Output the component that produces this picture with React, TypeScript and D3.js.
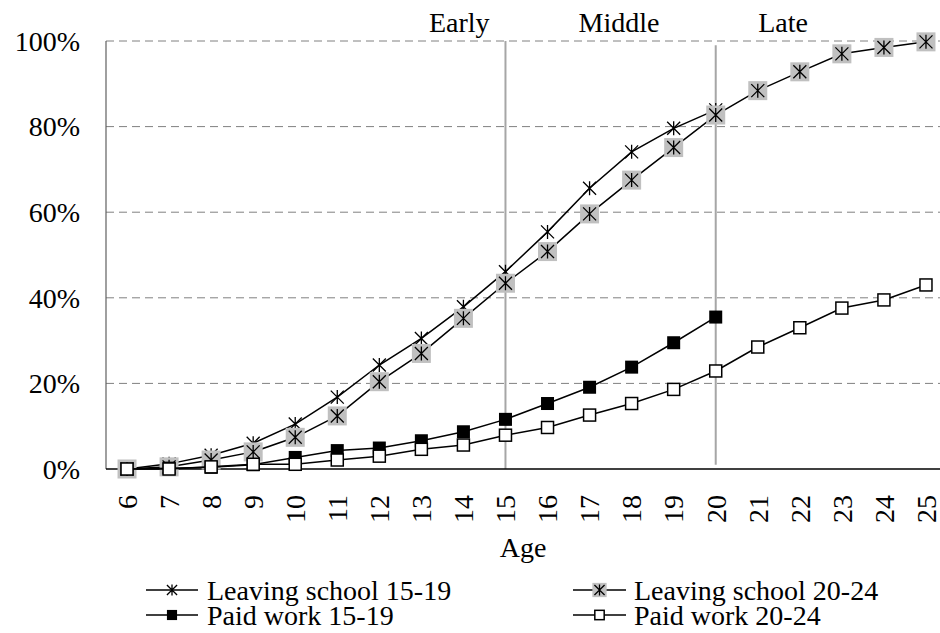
import React from "react";
import * as d3 from "d3";

const ages = d3.range(6, 26);
const ages15_19 = d3.range(6, 21);
const leaving15_19 = [0, 1.2, 3.2, 6, 10.5, 16.8, 24.3, 30.5, 37.9, 46.1, 55.4, 65.6, 74.1, 79.6, 83.9];
const leaving20_24 = [0, 0.5, 2.1, 4, 7.4, 12.4, 20.4, 27, 35.2, 43.4, 50.8, 59.6, 67.5, 75.1, 82.7, 88.4, 92.8, 97, 98.5, 99.8];
const paid15_19 = [0, 0.2, 0.4, 1.0, 2.7, 4.3, 4.9, 6.6, 8.7, 11.6, 15.3, 19.1, 23.8, 29.5, 35.5];
const paid20_24 = [0, 0, 0.5, 1.1, 1.1, 2.1, 3, 4.6, 5.6, 7.9, 9.7, 12.6, 15.3, 18.6, 22.9, 28.5, 33, 37.6, 39.5, 43];
const yTicks = [0, 20, 40, 60, 80, 100];
const phaseLines = [15, 20];
const phaseLabels = [
  { label: "Early", at: 13.9 },
  { label: "Middle", at: 17.7 },
  { label: "Late", at: 21.6 },
];

const FONT = "Liberation Serif, Times New Roman, DejaVu Serif, serif";

type Kind = "star" | "greystar" | "blacksq" | "whitesq";

const series: { name: string; xs: number[]; ys: number[]; kind: Kind }[] = [
  { name: "Leaving school 15-19", xs: ages15_19, ys: leaving15_19, kind: "star" },
  { name: "Leaving school 20-24", xs: ages, ys: leaving20_24, kind: "greystar" },
  { name: "Paid work 15-19", xs: ages15_19, ys: paid15_19, kind: "blacksq" },
  { name: "Paid work 20-24", xs: ages, ys: paid20_24, kind: "whitesq" },
];

function Star({ x, y, k }: { x: number; y: number; k: number }) {
  const s = 6.5 * k;
  const d = `M${x},${y - s - 0.5}L${x},${y + s + 0.5}M${x - s},${y - s}L${x + s},${y + s}M${x - s},${y + s}L${x + s},${y - s}`;
  return <path d={d} stroke="#000" strokeWidth={1.3} fill="none" />;
}

function Marker({ kind, x, y, k = 1 }: { kind: Kind; x: number; y: number; k?: number }) {
  if (kind === "star") return <Star x={x} y={y} k={k} />;
  if (kind === "greystar") {
    const g = 19 * (k < 1 ? 0.75 : 1);
    return (
      <g>
        <rect x={x - g / 2} y={y - g / 2} width={g} height={g} fill="#c0c0c0" />
        <Star x={x} y={y} k={k} />
      </g>
    );
  }
  const b = 13 * k;
  if (kind === "blacksq") return <rect x={x - b / 2} y={y - b / 2} width={b} height={b} fill="#000" />;
  const w = 12 * k;
  return <rect x={x - w / 2} y={y - w / 2} width={w} height={w} fill="#fff" stroke="#000" strokeWidth={1.5} />;
}

export default function App() {
  const W = 940;
  const H = 633;
  const x = d3.scaleLinear().domain([5.5, 25.5]).range([106, 947]);
  const y = d3.scaleLinear().domain([0, 100]).range([469, 41]);
  const line = d3
    .line<[number, number]>()
    .x((d) => x(d[0]))
    .y((d) => y(d[1]));

  const legendItems = [
    { s: series[0], lx0: 146, lx1: 198, tx: 207, row: 0 },
    { s: series[1], lx0: 573, lx1: 626, tx: 634, row: 0 },
    { s: series[2], lx0: 146, lx1: 198, tx: 207, row: 1 },
    { s: series[3], lx0: 573, lx1: 626, tx: 634, row: 1 },
  ];
  const rowY = [590, 615];
  const ts = { fontFamily: FONT, fontSize: "28px" } as React.CSSProperties;

  return (
    <svg width={W} height={H} style={{ position: "absolute", left: 0, top: 0, background: "#fff", fontFamily: FONT }}>
      <rect x={0} y={0} width={W} height={H} fill="#fff" />
      {yTicks
        .filter((t) => t > 0)
        .map((t) => (
          <line key={t} x1={x(5.5)} x2={W} y1={y(t)} y2={y(t)} stroke="#808080" strokeWidth={1} strokeDasharray="8,5" />
        ))}
      {phaseLines.map((a, i) => (
        <line
          key={a}
          x1={x(a)}
          x2={x(a)}
          y1={i === 0 ? y(100) : y(99)}
          y2={i === 0 ? y(0) : y(1)}
          stroke="#a6a6a6"
          strokeWidth={2}
        />
      ))}
      {phaseLabels.map((p) => (
        <text key={p.label} x={x(p.at)} y={32} textAnchor="middle" style={ts} fill="#000">
          {p.label}
        </text>
      ))}
      <line x1={x(5.5)} x2={x(5.5)} y1={y(100)} y2={y(0)} stroke="#606060" strokeWidth={1.2} />
      <line x1={x(5.5)} x2={W} y1={y(0)} y2={y(0)} stroke="#000" strokeWidth={1.5} />
      {yTicks.map((t) => (
        <text key={t} x={80} y={y(t)} dy="0.35em" textAnchor="end" style={ts} fill="#000">
          {t}%
        </text>
      ))}
      {ages.map((a) => (
        <text
          key={a}
          transform={`translate(${x(a)},495) rotate(-90)`}
          dy="0.35em"
          textAnchor="end"
          style={ts}
          fill="#000"
        >
          {a}
        </text>
      ))}
      <text x={523} y={557} textAnchor="middle" style={ts} fill="#000">
        Age
      </text>
      {series.map((s) => {
        const pts = s.xs.map((a, i) => [a, s.ys[i]] as [number, number]);
        return (
          <g key={s.name}>
            <path d={line(pts) || ""} fill="none" stroke="#000" strokeWidth={1.5} />
            {pts.map((p, i) => (
              <Marker key={i} kind={s.kind} x={x(p[0])} y={y(p[1])} />
            ))}
          </g>
        );
      })}
      {legendItems.map((it) => {
        const cy = rowY[it.row];
        return (
          <g key={it.s.name}>
            <line x1={it.lx0} x2={it.lx1} y1={cy} y2={cy} stroke="#000" strokeWidth={1.5} />
            <Marker kind={it.s.kind} x={(it.lx0 + it.lx1) / 2} y={cy} k={0.78} />
            <text x={it.tx} y={cy} dy="0.35em" style={ts} fill="#000">
              {it.s.name}
            </text>
          </g>
        );
      })}
    </svg>
  );
}
